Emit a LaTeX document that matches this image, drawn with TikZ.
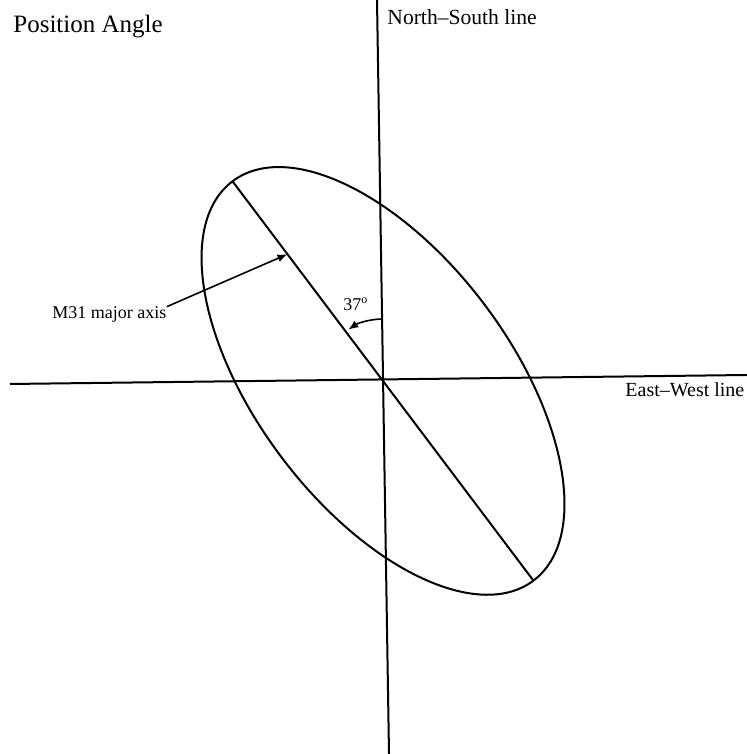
\documentclass[tikz,border=0pt]{standalone}
\usepackage{fontspec}
\setmainfont{Liberation Serif}
\usetikzlibrary{arrows.meta, calc}

\begin{document}
\begin{tikzpicture}[x=0.5pt, y=0.5pt,
  ax/.style={line width=1pt},
  lbl/.style={inner sep=0pt, anchor=base west, font=\fontsize{9}{10}\selectfont},
  ptr/.style={line width=0.8pt, -{Latex[length=5pt, width=4pt]}}]
  \useasboundingbox (0,0) rectangle (747,754);
  \coordinate (ctr) at (383,373);
  \coordinate (ns-top) at (377,754);
  \coordinate (ns-bot) at (389,0);
  \coordinate (ew-left) at (10,370);
  \coordinate (ew-right) at (747,379);
  \coordinate (maj-top) at ($(ctr)+(127:250)$);
  \coordinate (maj-bot) at ($(ctr)+(-53:250)$);
  \draw[ax] (ns-top) -- (ns-bot);
  \draw[ax] (ew-left) -- (ew-right);
  \draw[ax, rotate around={37:(ctr)}] (ctr) ellipse[x radius=127, y radius=250];
  \draw[ax] (maj-top) -- (maj-bot);
  \node[lbl, font=\fontsize{12.5}{14}\selectfont] (title) at (13,721) {Position Angle};
  \node[lbl, font=\fontsize{10.8}{12}\selectfont] (ns) at (387,729) {North–South line};
  \node[lbl, font=\fontsize{10}{12}\selectfont] (ew) at (625,357) {East–West line};
  \node[lbl] (m31) at (52,435) {M31 major axis};
  \node[lbl] (ang) at (343,443) {37\textsuperscript{o}};
  \coordinate (tip) at ($(ctr)!0.635!(maj-top)$);
  \draw[ptr] (m31.north east) -- (tip);
  \draw[ptr] ($(ctr)+(92:62)$) arc[start angle=92, end angle=124, radius=62];
\end{tikzpicture}
\end{document}
